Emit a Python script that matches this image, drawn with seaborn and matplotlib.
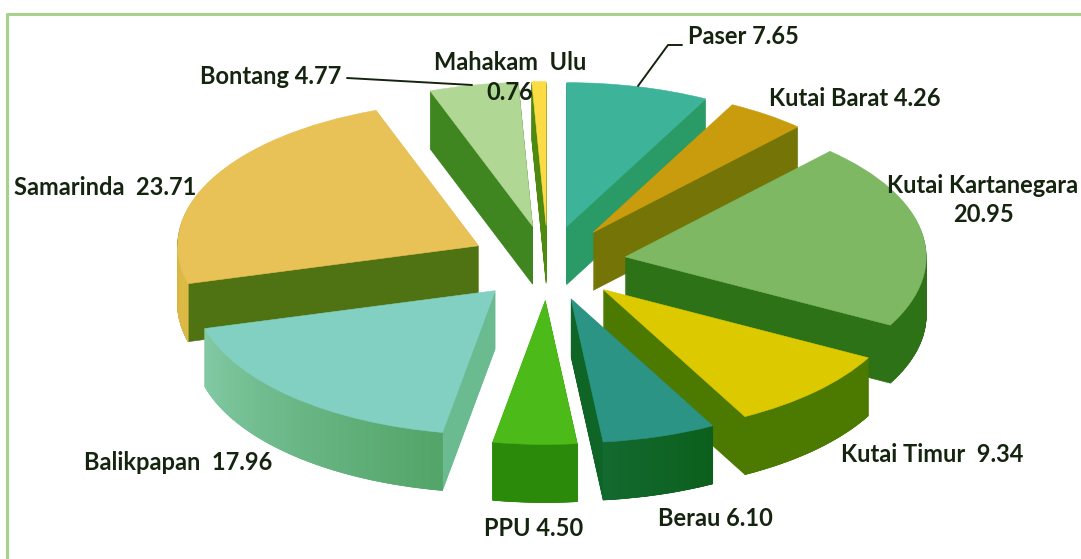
import numpy as np
import matplotlib
matplotlib.use('Agg')
import matplotlib.pyplot as plt
import matplotlib.colors as mcolors
from matplotlib.lines import Line2D
import seaborn as sns

# Data
regions = ['Paser', 'Kutai Barat', 'Kutai Kartanegara', 'Kutai Timur', 'Berau',
           'PPU', 'Balikpapan', 'Samarinda', 'Bontang', 'Mahakam  Ulu']
shares = [7.65, 4.26, 20.95, 9.34, 6.10, 4.50, 17.96, 23.71, 4.77, 0.76]

top_colors = ['#3DB39A', '#C99C0E', '#7EB863', '#DCC900', '#2B9484',
              '#4CBA18', '#82D0C2', '#E8C257', '#B1D795', '#FDDB45']
cut_colors = ['#2A9A66', '#747506', '#2D7216', '#4C7A00', '#0F6526',
              '#2B8A0A', '#6BBB90', '#4F7312', '#3F8620', '#4F8A10']
rim_left = ['#2A9A66', '#747506', '#2D7216', '#4C7A00', '#146B30',
            '#2B8A0A', '#84CBA6', '#D8B540', '#3F8620', '#4F8A10']
rim_right = ['#2A9A66', '#747506', '#2D7216', '#4C7A00', '#0C5F1C',
             '#2B8A0A', '#52A468', '#E0BC48', '#3F8620', '#4F8A10']

W, H = 1081, 559
CX, CY = 548, 263      # pie centre, pixels
RX, RY = 301, 144      # ellipse radii, pixels
DEPTH = 58             # extrusion, pixels
EXPLODE = 0.26

sns.set_theme(style='white')
plt.rcParams['font.family'] = ['Lato', 'DejaVu Sans']

fig = plt.figure(figsize=(W / 100, H / 100), dpi=100, facecolor='white')
ax = fig.add_axes([0, 0, 1, 1])

explode = [EXPLODE] * len(shares)
mids = 2 * np.pi * (np.cumsum(shares) - np.array(shares) / 2) / sum(shares)
# back wedges first, front wedges last
depth_rank = np.argsort(np.argsort(-np.cos(mids)))


def draw_pie(colors, dy, z_offset):
    wedges, _ = ax.pie(shares, explode=explode, colors=sns.color_palette(colors),
                       startangle=90, counterclock=False, center=(0, dy),
                       wedgeprops={'linewidth': 0.4})
    for i, w in enumerate(wedges):
        w.set_edgecolor(colors[i])
        w.set_zorder(2 + depth_rank[i] + z_offset)
    return wedges


# Side walls, stacked from the floor up
for px in range(DEPTH, 0, -1):
    draw_pie(cut_colors, -px / RY, 0)

# Top faces
top_wedges = draw_pie(top_colors, 0, 0.7)

# Outer rim on the front half, shaded along the arc
for i, w in enumerate(top_wedges):
    theta = np.radians(np.linspace(w.theta1, w.theta2, 120))
    theta = theta[np.sin(theta) < 0]
    if len(theta) < 2:
        continue
    x0, y0 = w.center
    c0 = np.array(mcolors.to_rgb(rim_left[i]))
    c1 = np.array(mcolors.to_rgb(rim_right[i]))
    for k in range(len(theta) - 1):
        a, b = theta[k], theta[k + 1]
        xs = x0 + np.cos([a, b, b, a])
        ys = y0 + np.sin([a, b, b, a]) + np.array([0, 0, -1, -1]) * DEPTH / RY
        c = c0 + (c1 - c0) * k / (len(theta) - 1)
        ax.fill(xs, ys, color=c, linewidth=0.5, zorder=2 + depth_rank[i] + 0.4)

ax.set_aspect('auto')
ax.set_xlim(-CX / RX, (W - CX) / RX)
ax.set_ylim((CY - H) / RY, CY / RY)
ax.set_position([0, 0, 1, 1])


def fx(x):
    return x / W


def fy(y):
    return 1 - y / H


# Frame: left and top only, the top runs off the right edge
frame_color = '#A9D18E'
fig.add_artist(Line2D([fx(7), fx(7), fx(W)],
                      [fy(H), fy(14), fy(14)], color=frame_color, lw=2.2))

# Leader lines
ink = '#14240F'
fig.add_artist(Line2D([fx(638), fx(668), fx(682)], [fy(86), fy(45), fy(45)], color=ink, lw=1.4))
fig.add_artist(Line2D([fx(347), fx(472)], [fy(78), fy(85)], color=ink, lw=1.4))

# Labels
text_style = dict(fontsize=17, fontweight='bold', color=ink, va='center', zorder=30)
label_pos = {
    'Paser': (688, 36, 'left'),
    'Kutai Barat': (769, 99, 'left'),
    'Kutai Timur': (841, 454, 'left'),
    'Berau': (658, 519, 'left'),
    'PPU': (484, 528, 'left'),
    'Balikpapan': (84, 463, 'left'),
    'Samarinda': (14, 187, 'left'),
    'Bontang': (200, 76, 'left'),
}
for name, value in zip(regions, shares):
    if name in label_pos:
        x, y, ha = label_pos[name]
        gap = '  ' if name in ('Balikpapan', 'Samarinda', 'Kutai Timur') else ' '
        fig.text(fx(x), fy(y), f'{name}{gap}{value:.2f}', ha=ha, **text_style)

fig.text(fx(983), fy(185), regions[2], ha='center', **text_style)
fig.text(fx(983), fy(214), f'{shares[2]:.2f}', ha='center', **text_style)
fig.text(fx(510), fy(63), regions[9], ha='center', **text_style)
fig.text(fx(510), fy(92), f'{shares[9]:.2f}', ha='center', **text_style)

fig.savefig('out.png', dpi=100, facecolor='white')
